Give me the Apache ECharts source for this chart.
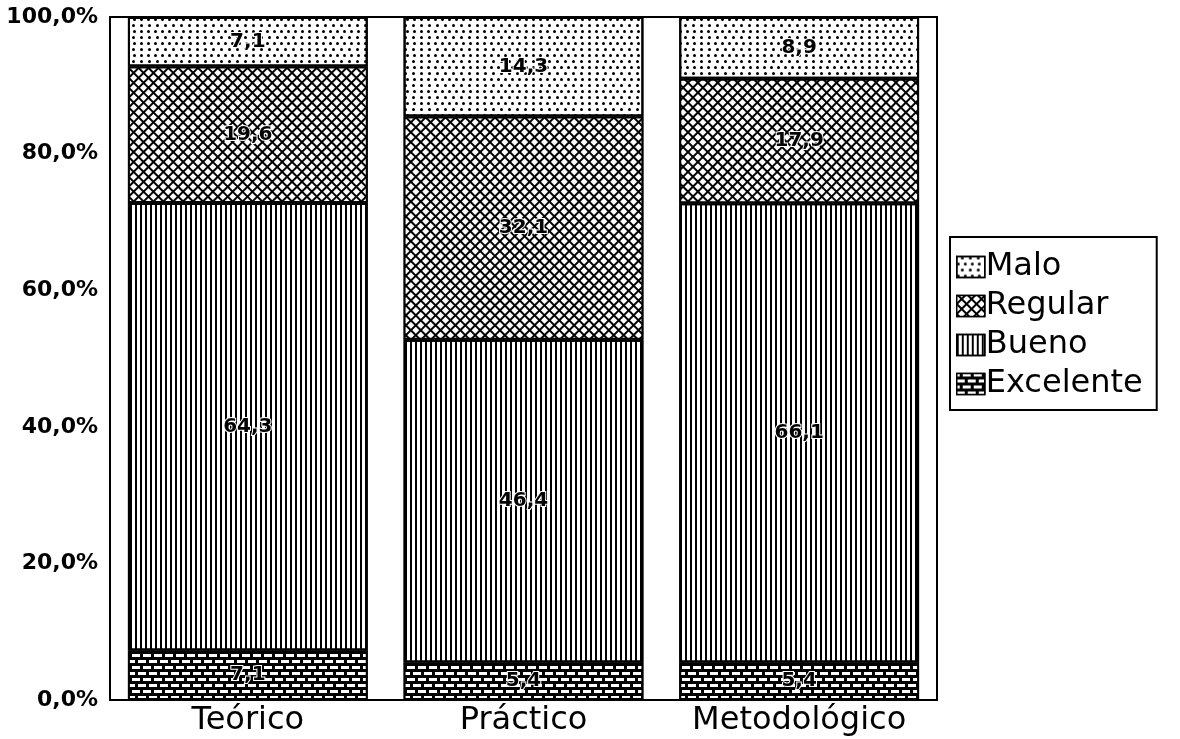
<!DOCTYPE html>
<html><head><meta charset="utf-8">
<script src="https://cdn.jsdelivr.net/npm/echarts@6/dist/echarts.min.js"></script>
<style>html,body{margin:0;padding:0;background:#fff}#c{width:1180px;height:739px}</style>
</head><body><div id="c"></div>
<script>
const categories = ['Teórico', 'Práctico', 'Metodológico'];
const excelente = [7.1, 5.4, 5.4];
const bueno = [64.3, 46.4, 66.1];
const regular = [19.6, 32.1, 17.9];
const malo = [7.1, 14.3, 8.9];
const legendOrder = ['Malo', 'Regular', 'Bueno', 'Excelente'];

const totals = categories.map((_, i) => excelente[i] + bueno[i] + regular[i] + malo[i]);
const pct = arr => arr.map((v, i) => v / totals[i] * 100);
const fmt = v => v.toFixed(1).replace('.', ',');
const FONT = "'DejaVu Sans', 'Liberation Sans', Arial, sans-serif";

const decals = {
  Excelente: { color: '#fff', symbol: 'rect', symbolSize: 1, dashArrayX: [[8, 3], [3, 3, 5, 0]], dashArrayY: [2.5, 3] },
  Bueno: { color: '#000', symbol: 'rect', symbolSize: 1, dashArrayX: [2, 2.2], dashArrayY: [4, 0] },
  Regular: { color: '#fff', symbol: 'rect', symbolSize: 1, dashArrayX: [5, 1.6], dashArrayY: [5, 1.6], rotation: Math.PI / 4 },
  Malo: { color: '#000', symbol: 'circle', symbolSize: 1, dashArrayX: [[2.4, 4], [0, 3.2, 2.4, 0.8]], dashArrayY: [2.4, 2.6] }
};
const baseColor = { Excelente: '#000', Bueno: '#fff', Regular: '#000', Malo: '#fff' };

function mk(name, raw) {
  return {
    name: name,
    type: 'bar',
    stack: 'total',
    barWidth: '87%',
    data: pct(raw),
    itemStyle: { color: baseColor[name], borderColor: '#000', borderWidth: 2, decal: decals[name] },
    label: {
      show: true,
      position: 'inside',
      formatter: p => fmt(raw[p.dataIndex]),
      color: '#000',
      fontFamily: FONT,
      fontWeight: 'bold',
      fontSize: 20,
      textBorderColor: '#fff',
      textBorderWidth: 2
    },
    emphasis: { disabled: true }
  };
}

const chart = echarts.init(document.getElementById('c'), null, { renderer: 'canvas' });
chart.setOption({
  animation: false,
  backgroundColor: '#fff',
  grid: { left: 110, right: 243, top: 17, bottom: 39, show: true, borderColor: '#000', borderWidth: 2, backgroundColor: 'transparent' },
  xAxis: {
    type: 'category',
    data: categories,
    axisLine: { show: false },
    axisTick: { show: false },
    axisLabel: { interval: 0, color: '#000', fontFamily: FONT, fontSize: 32, margin: 5 }
  },
  yAxis: {
    type: 'value',
    min: 0, max: 100, interval: 20,
    axisLine: { show: false },
    axisTick: { show: false },
    splitLine: { show: false },
    axisLabel: { color: '#000', fontFamily: FONT, fontSize: 22, fontWeight: 'bold', margin: 12, formatter: v => fmt(v) + '%' }
  },
  legend: {
    orient: 'vertical',
    left: 950,
    top: 237,
    data: legendOrder,
    icon: 'rect',
    itemWidth: 28,
    itemHeight: 21,
    itemGap: 7,
    padding: [14, 14, 10, 6],
    borderColor: '#000',
    borderWidth: 2,
    textStyle: { color: '#000', fontFamily: FONT, fontSize: 32, padding: [0, 0, 0, -4] },
    itemStyle: { borderColor: '#000', borderWidth: 1.5 }
  },
  series: [
    mk('Excelente', excelente),
    mk('Bueno', bueno),
    mk('Regular', regular),
    mk('Malo', malo)
  ]
});
</script></body></html>
